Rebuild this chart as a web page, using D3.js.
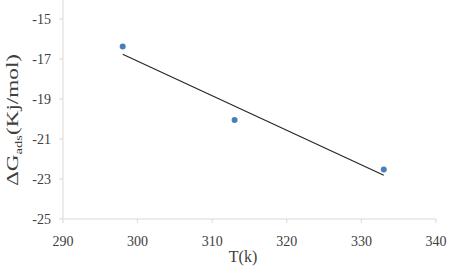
<!DOCTYPE html>
<html>
<head>
<meta charset="utf-8">
<script src="https://cdn.jsdelivr.net/npm/d3@7"></script>
<style>
  body { margin: 0; background: #fff; }
</style>
</head>
<body>
<div id="chart"></div>
<script>
// data
const temps = [298, 313, 333]
const deltaG = [-16.37, -20.05, -22.52]
const xTicks = [290, 300, 310, 320, 330, 340]
const yTicks = [-15, -17, -19, -21, -23, -25]

let width = 450, height = 268
let margin = {top: 19, right: 14, bottom: 49, left: 63}

let svg = d3.select("#chart")
    .append("svg")
    .attr("width", width)
    .attr("height", height)
    .attr("font-family", "'Liberation Serif', 'DejaVu Serif', serif")

const x = d3.scaleLinear().domain([290, 340]).range([margin.left, width - margin.right])
const y = d3.scaleLinear().domain([-25, -15]).range([height - margin.bottom, margin.top])

// axis lines
svg.append("line")
    .attr("x1", margin.left).attr("x2", margin.left)
    .attr("y1", 0).attr("y2", y(-25))
    .attr("stroke", "#d9d9d9")
svg.append("line")
    .attr("x1", margin.left).attr("x2", x(340))
    .attr("y1", y(-25)).attr("y2", y(-25))
    .attr("stroke", "#d9d9d9")

// y ticks + labels
svg.selectAll(".ytick")
    .data(yTicks)
    .join("line")
    .attr("x1", margin.left - 4).attr("x2", margin.left)
    .attr("y1", d => y(d)).attr("y2", d => y(d))
    .attr("stroke", "#d9d9d9")
svg.selectAll(".ylab")
    .data(yTicks)
    .join("text")
    .attr("x", 51)
    .attr("y", d => y(d) + 5)
    .attr("text-anchor", "end")
    .attr("fill", "#404040")
    .style("font-size", "14px")
    .text(d => d)

// x ticks + labels
svg.selectAll(".xtick")
    .data(xTicks)
    .join("line")
    .attr("x1", d => x(d)).attr("x2", d => x(d))
    .attr("y1", y(-25)).attr("y2", y(-25) + 4)
    .attr("stroke", "#d9d9d9")
svg.selectAll(".xlab")
    .data(xTicks)
    .join("text")
    .attr("x", d => x(d))
    .attr("y", 246)
    .attr("text-anchor", "middle")
    .attr("fill", "#404040")
    .style("font-size", "14px")
    .text(d => d)

// axis titles
svg.append("text")
    .attr("x", 243).attr("y", 262)
    .attr("text-anchor", "middle")
    .attr("fill", "#404040")
    .style("font-size", "16px")
    .text("T(k)")

// the original title is drawn long and narrow, so stretch it along its length
let yTitle = svg.append("text")
    .attr("transform", "translate(18,120) rotate(-90) scale(1.45,1)")
    .attr("text-anchor", "middle")
    .attr("fill", "#404040")
    .style("font-size", "16px")
yTitle.append("tspan").text("ΔG")
yTitle.append("tspan").attr("dy", 4).style("font-size", "10px").text("ads")
yTitle.append("tspan").attr("dy", -4).text("(Kj/mol)")

// linear trendline (least squares through the points)
const mx = d3.mean(temps), my = d3.mean(deltaG)
const slope = d3.sum(temps, (t, i) => (t - mx) * (deltaG[i] - my)) / d3.sum(temps, t => (t - mx) ** 2)
const ends = [temps[0], temps[temps.length - 1]]
svg.append("path")
    .datum(ends)
    .attr("d", d3.line().x(t => x(t)).y(t => y(my + slope * (t - mx))))
    .attr("stroke", "#262626")
    .attr("stroke-width", 1.2)
    .attr("fill", "none")

// points
svg.selectAll("circle")
    .data(temps)
    .join("circle")
    .attr("cx", d => x(d))
    .attr("cy", (d, i) => y(deltaG[i]))
    .attr("r", 3)
    .attr("fill", "#4a7ebb")
</script>
</body>
</html>
